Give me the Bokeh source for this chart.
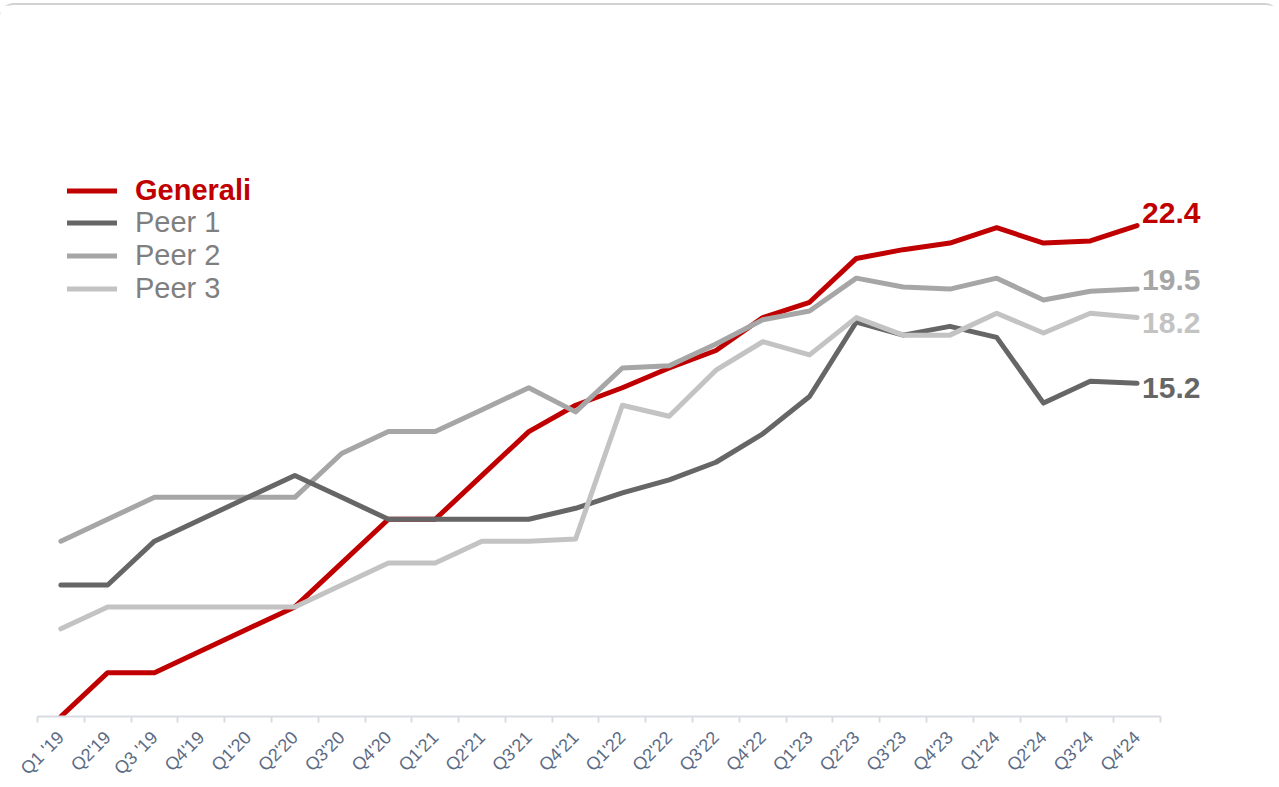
import math
from bokeh.plotting import figure
from bokeh.models import ColumnDataSource, Range1d, FixedTicker, Legend, LegendItem
from bokeh.embed import file_html
from bokeh.resources import INLINE
from bokeh.core.properties import value

quarters = ["Q1 '19", "Q2'19", "Q3 '19", "Q4'19", "Q1'20", "Q2'20", "Q3'20", "Q4'20",
            "Q1'21", "Q2'21", "Q3'21", "Q4'21", "Q1'22", "Q2'22", "Q3'22", "Q4'22",
            "Q1'23", "Q2'23", "Q3'23", "Q4'23", "Q1'24", "Q2'24", "Q3'24", "Q4'24"]

generali = [0, 2, 2, 3, 4, 5, 7, 9, 9, 11, 13, 14.2, 15.0, 15.9, 16.7, 18.2,
            18.9, 20.9, 21.3, 21.6, 22.3, 21.6, 21.7, 22.4]
peer1 = [6, 6, 8, 9, 10, 11, 10, 9, 9, 9, 9, 9.5, 10.2, 10.8, 11.6, 12.9,
         14.6, 18.0, 17.4, 17.8, 17.3, 14.3, 15.3, 15.2]
peer2 = [8, 9, 10, 10, 10, 10, 12, 13, 13, 14, 15, 13.9, 15.9, 16.0, 17.0, 18.1,
         18.5, 20.0, 19.6, 19.5, 20.0, 19.0, 19.4, 19.5]
peer3 = [4, 5, 5, 5, 5, 5, 6, 7, 7, 8, 8, 8.1, 14.2, 13.7, 15.8, 17.1,
         16.5, 18.2, 17.4, 17.4, 18.4, 17.5, 18.4, 18.2]

names = ["Generali", "Peer 1", "Peer 2", "Peer 3"]
series = [generali, peer1, peer2, peer3]
colors = ["#c00000", "#666666", "#a6a6a6", "#c3c3c3"]
label_dy = [-13, 5, -9, 5]          # pixel nudges of the end labels
draw_order = [0, 2, 1, 3]

FONT = "Liberation Sans"
n = len(quarters)
x = list(range(n))

p = figure(frame_width=1232, frame_height=711, output_backend="svg", toolbar_location=None,
           x_range=Range1d(-0.5, 25.83), y_range=Range1d(0, 32.44),
           y_axis_location=None,
           min_border_left=37, min_border_right=10, min_border_top=0, min_border_bottom=71)
p.styles = {"position": "absolute", "left": "0px", "top": "3px",
            "border-top": "2px solid #d2d2d2", "border-radius": "14px 14px 0 0"}
p.outline_line_color = None
p.grid.visible = False
p.background_fill_color = "white"
p.border_fill_color = "white"

renderers = {}
for i in draw_order:
    src = ColumnDataSource(dict(x=x, y=series[i]))
    renderers[i] = p.line("x", "y", source=src, line_color=colors[i], line_width=5,
                          line_join="round", line_cap="round")

# end labels
lab_src = ColumnDataSource(dict(
    x=[x[-1]] * len(series),
    y=[s[-1] for s in series],
    text=[f"{s[-1]:.1f}" for s in series],
    color=colors,
    dy=label_dy,
))
p.text("x", "y", text="text", source=lab_src, text_color="color", x_offset=5, y_offset="dy",
       text_font=value(FONT), text_font_style="bold", text_font_size="30px",
       text_align="left", text_baseline="middle")

# x axis
ax = p.xaxis[0]
ax.ticker = FixedTicker(ticks=x, minor_ticks=[i - 0.5 for i in range(n + 1)])
ax.bounds = (-0.5, n - 0.5)
ax.major_label_overrides = {i: q for i, q in enumerate(quarters)}
ax.major_label_orientation = math.pi / 4
ax.major_tick_line_color = None
ax.minor_tick_line_color = "#d9dbe3"
ax.minor_tick_line_width = 2
ax.minor_tick_in = 0
ax.minor_tick_out = 6
ax.axis_line_color = "#d9dbe3"
ax.axis_line_width = 2
ax.major_label_text_font = FONT
ax.major_label_text_font_size = "18px"
ax.major_label_text_color = "#5c6b84"
ax.major_label_standoff = 12

def make_legend(items, loc, color, style):
    leg = Legend(items=items, location=loc, orientation="vertical",
                 glyph_width=50, glyph_height=33, label_height=33, label_standoff=18,
                 spacing=0, padding=0, margin=0, border_line_color=None,
                 background_fill_alpha=0)
    leg.label_text_font = FONT
    leg.label_text_font_size = "29px"
    leg.label_text_color = color
    leg.label_text_font_style = style
    leg.label_text_baseline = "middle"
    return leg

leg1 = make_legend([LegendItem(label=names[0], renderers=[renderers[0]])], (30, 509), colors[0], "bold")
leg2 = make_legend([LegendItem(label=names[i], renderers=[renderers[i]]) for i in (1, 2, 3)],
                   (30, 411), "#7f7f7f", "normal")
p.add_layout(leg1)
p.add_layout(leg2)

open("out.html", "w").write(file_html(p, INLINE))
